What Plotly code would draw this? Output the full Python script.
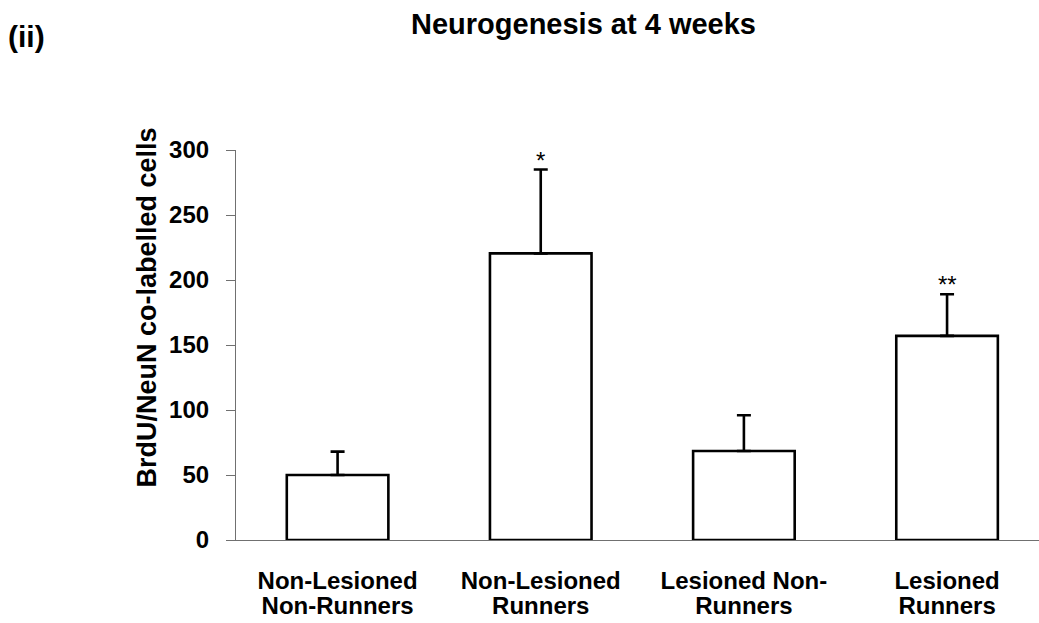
import plotly.graph_objects as go

cat_line1 = ["Non-Lesioned", "Non-Lesioned", "Lesioned Non-", "Lesioned"]
cat_line2 = ["Non-Runners", "Runners", "Runners", "Runners"]
means = [50, 220.5, 68.5, 157]
sem = [18, 64.5, 27.5, 32]
signif = ["", "*", "", "**"]
y_ticks = [0, 50, 100, 150, 200, 250, 300]

FONT = "Liberation Sans, Arial, sans-serif"
W, H = 1039, 623
L, R, T, B = 236, 0, 150, 83
xpos = list(range(len(cat_line1)))
xrange = [-0.5, 3 + (W - 947) / 203.3]

fig = go.Figure()
fig.add_trace(go.Bar(
    x=xpos, y=means,
    width=0.5,
    marker=dict(color="white", line=dict(color="black", width=2.6)),
    error_y=dict(type="data", array=sem, arrayminus=[0] * len(sem), symmetric=False,
                 color="black", thickness=2.6, width=7),
    showlegend=False, hoverinfo="skip",
))
# carrier for the second line of category labels
fig.add_trace(go.Scatter(x=xpos, y=[None] * len(xpos), xaxis="x2", mode="markers",
                         showlegend=False, hoverinfo="skip"))

for i, s in enumerate(signif):
    if s:
        fig.add_annotation(x=i, y=means[i] + sem[i], xref="x", yref="y", text=s,
                           showarrow=False, yanchor="bottom", yshift=-6,
                           font=dict(family=FONT, size=24, color="black"))

fig.add_annotation(xref="paper", yref="paper",
                   x=(146 - L) / (W - L - R), y=(540 - 307.5) / 390,
                   text="BrdU/NeuN co-labelled cells", textangle=-90, showarrow=False,
                   xanchor="center", yanchor="middle",
                   font=dict(family=FONT, size=27, color="black", weight="bold"))

fig.add_annotation(xref="paper", yref="paper", x=-(L - 6) / (W - L - R),
                   y=(540 - 37) / 390, text="(ii)", showarrow=False,
                   xanchor="left", yanchor="middle",
                   font=dict(family=FONT, size=30, color="black", weight="bold"))

tickfont = dict(family=FONT, size=24, color="black", weight="bold")
fig.update_layout(
    width=W, height=H,
    margin=dict(l=L, r=R, t=T, b=B, autoexpand=False),
    plot_bgcolor="white", paper_bgcolor="white",
    title=dict(text="Neurogenesis at 4 weeks", x=583.5 / W, xanchor="center",
               y=1 - 24 / H, yanchor="middle",
               font=dict(family=FONT, size=29, color="black", weight="bold")),
    xaxis=dict(range=xrange, tickmode="array", tickvals=xpos, ticktext=cat_line1,
               showline=True, linecolor="#707070", linewidth=1.2, ticks="",
               showgrid=False, zeroline=False, ticklabelstandoff=19,
               tickfont=tickfont),
    xaxis2=dict(range=xrange, overlaying="x", side="bottom", anchor="y",
                tickmode="array", tickvals=xpos, ticktext=cat_line2,
                showline=False, ticks="", showgrid=False, zeroline=False,
                ticklabelstandoff=49, tickfont=tickfont),
    yaxis=dict(range=[0, 300], tickmode="array", tickvals=y_ticks,
               showline=True, linecolor="#707070", linewidth=1.2,
               ticks="outside", ticklen=9, tickcolor="#707070", tickwidth=1.2,
               showgrid=False, zeroline=False, ticklabelstandoff=12,
               tickfont=dict(family=FONT, size=24, color="black", weight="bold")),
)

fig.write_html("out.html", config={"displayModeBar": False},
               post_script="document.body.style.margin='0';")
